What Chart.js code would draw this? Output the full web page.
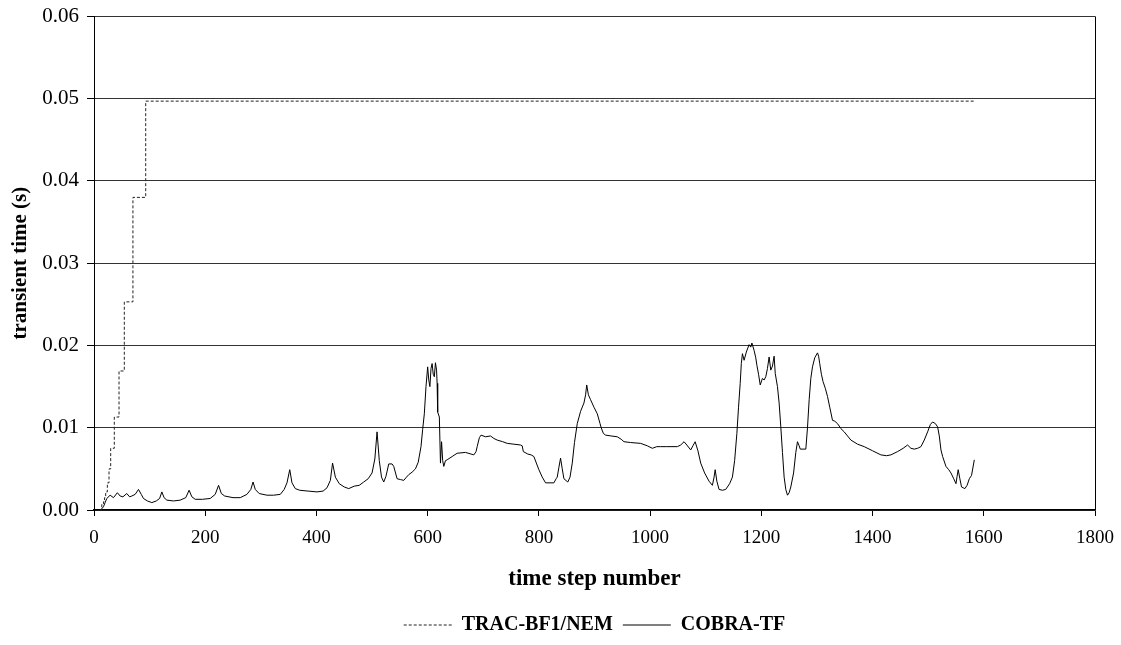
<!DOCTYPE html>
<html>
<head>
<meta charset="utf-8">
<script src="https://cdn.jsdelivr.net/npm/chart.js@4/dist/chart.umd.min.js"></script>
<style>
  html, body { margin: 0; padding: 0; background: #fff; }
</style>
</head>
<body>
<canvas id="stepChart" width="1121" height="645"></canvas>
<script>
Chart.defaults.font.family = "'Liberation Serif', 'Times New Roman', serif"
Chart.defaults.color = "#000"

// TRAC-BF1/NEM: each entry is the step where a new plateau starts
const tracSteps = [10, 14, 17, 19, 21, 24, 27, 30, 36.5, 45, 54.5, 70, 93, 1584]
const tracTimes = [0, 0.0007, 0.001, 0.0015, 0.0022, 0.0033, 0.005, 0.0075, 0.0113, 0.0169, 0.0253, 0.038, 0.0497, 0.0497]

// COBRA-TF
const cobraSteps = [
  0, 12, 17, 20, 23, 29, 35, 42, 47, 52, 59, 64, 68, 74, 80, 85, 89, 96, 104, 112,
  118, 122, 126, 131, 143, 155, 165, 171, 176, 182, 195, 209, 218, 224, 229, 235, 250, 263, 275, 282,
  286, 290, 297, 311, 323, 335, 342, 347, 352, 356, 362, 370, 385, 401, 412, 419, 425, 429, 434, 441,
  450, 458, 468, 477, 485, 493, 500, 505, 509, 513, 517, 521, 525, 530, 536, 539, 545, 551, 557, 562,
  566, 572, 578, 583, 588, 591, 594, 597, 600, 602, 604, 606, 608, 610, 612, 614, 616, 617, 618, 621,
  623, 625, 627, 629, 632, 635, 644, 653, 668, 678, 683, 687, 689, 693, 696, 704, 713, 719, 725, 735,
  743, 755, 767, 770, 772, 780, 786, 791, 796, 800, 806, 812, 820, 827, 831, 833, 836, 839, 842, 845,
  852, 856, 860, 864, 869, 875, 881, 884, 886, 889, 893, 899, 905, 910, 912, 916, 920, 930, 941, 948,
  953, 965, 983, 995, 1004, 1012, 1019, 1030, 1049, 1055, 1061, 1066, 1073, 1077, 1081, 1086, 1091, 1098, 1106, 1112,
  1115, 1117, 1120, 1124, 1130, 1136, 1143, 1148, 1152, 1156, 1159, 1162, 1164, 1166, 1169, 1173, 1178, 1181, 1183, 1187,
  1190, 1192, 1195, 1198, 1202, 1205, 1208, 1211, 1214, 1217, 1220, 1223, 1225, 1229, 1232, 1235, 1238, 1241, 1244, 1247,
  1250, 1253, 1258, 1262, 1265, 1268, 1270, 1280, 1283, 1286, 1289, 1292, 1296, 1301, 1303, 1305, 1308, 1311, 1315, 1319,
  1323, 1328, 1332, 1337, 1343, 1349, 1355, 1361, 1373, 1385, 1400, 1415, 1425, 1433, 1445, 1455, 1463, 1469, 1475, 1481,
  1487, 1493, 1499, 1504, 1508, 1513, 1517, 1520, 1523, 1526, 1532, 1537, 1541, 1546, 1550, 1552, 1554, 1557, 1560, 1566,
  1570, 1574, 1578, 1583
]
const cobraTimes = [
  0, 0, 0.0004, 0.0009, 0.0014, 0.0018, 0.0015, 0.0021, 0.0017, 0.0016, 0.002, 0.0016, 0.0017, 0.0019, 0.0025, 0.0019, 0.0014, 0.0011, 0.0009, 0.0011,
  0.0014, 0.0022, 0.0015, 0.0012, 0.0011, 0.0012, 0.0015, 0.0024, 0.0016, 0.0013, 0.0013, 0.0014, 0.0019, 0.003, 0.002, 0.0017, 0.0015, 0.0015, 0.0019, 0.0025,
  0.0034, 0.0025, 0.002, 0.0018, 0.0018, 0.0019, 0.0025, 0.0033, 0.0049, 0.0033, 0.0026, 0.0024, 0.0023, 0.0022, 0.0023, 0.0027, 0.0036, 0.0057, 0.004, 0.0032,
  0.0028, 0.0026, 0.0029, 0.003, 0.0034, 0.0038, 0.0045, 0.0062, 0.0095, 0.006, 0.004, 0.0034, 0.0041, 0.0056, 0.0056, 0.0053, 0.0038, 0.0037, 0.0036, 0.004,
  0.0043, 0.0046, 0.005, 0.0058, 0.0077, 0.0098, 0.0117, 0.015, 0.0174, 0.0158, 0.015, 0.0172, 0.0178, 0.0165, 0.0162, 0.0179, 0.017, 0.0154, 0.0119, 0.0113,
  0.0057, 0.0083, 0.006, 0.0053, 0.006, 0.0061, 0.0065, 0.0069, 0.007, 0.0068, 0.0067, 0.0071, 0.0077, 0.0088, 0.0091, 0.0089, 0.009, 0.0087, 0.0085, 0.0083,
  0.0081, 0.008, 0.0079, 0.0078, 0.0071, 0.0068, 0.0067, 0.0065, 0.0056, 0.0049, 0.004, 0.0033, 0.0033, 0.0033, 0.0038, 0.004, 0.0052, 0.0063, 0.005, 0.0038,
  0.0034, 0.004, 0.0057, 0.0082, 0.0105, 0.012, 0.013, 0.014, 0.0152, 0.014, 0.0134, 0.0125, 0.0117, 0.0105, 0.01, 0.0093, 0.0091, 0.009, 0.0089, 0.0086,
  0.0083, 0.0082, 0.0081, 0.0078, 0.0075, 0.0077, 0.0077, 0.0077, 0.0077, 0.0079, 0.0083, 0.0079, 0.0073, 0.0078, 0.0083, 0.0072, 0.0057, 0.0045, 0.0035, 0.003,
  0.004, 0.0049, 0.0035, 0.0025, 0.0024, 0.0025, 0.0032, 0.004, 0.006, 0.0093, 0.0125, 0.0154, 0.0178, 0.019, 0.0182, 0.0192, 0.0201, 0.0198, 0.0203, 0.0194,
  0.0185, 0.0176, 0.0165, 0.0152, 0.016, 0.0158, 0.0162, 0.0172, 0.0186, 0.017, 0.0175, 0.0187, 0.0166, 0.015, 0.013, 0.0101, 0.007, 0.004, 0.0025, 0.0018,
  0.0021, 0.0028, 0.0045, 0.007, 0.0083, 0.0078, 0.0074, 0.0074, 0.01, 0.0134, 0.016, 0.0174, 0.0185, 0.0191, 0.0187, 0.0178, 0.0165, 0.0156, 0.0148, 0.0138,
  0.0125, 0.0109, 0.0108, 0.0105, 0.0099, 0.0095, 0.009, 0.0085, 0.008, 0.0077, 0.0072, 0.0067, 0.0066, 0.0067, 0.0071, 0.0075, 0.0079, 0.0075, 0.0074, 0.0075,
  0.0077, 0.0085, 0.0095, 0.0104, 0.0107, 0.0105, 0.0101, 0.009, 0.0073, 0.0065, 0.0053, 0.0049, 0.0045, 0.0038, 0.0032, 0.0041, 0.0049, 0.0038, 0.0028, 0.0026,
  0.003, 0.0038, 0.0042, 0.0061
]

const stepMax = 1800
const stepTick = 200
const timeMax = 0.06
const timeTick = 0.01

const toPoints = (xs, ys) => xs.map((x, i) => ({ x: x, y: ys[i] }))

new Chart(document.getElementById("stepChart"), {
  type: "line",
  data: {
    datasets: [
      {
        label: "TRAC-BF1/NEM",
        data: toPoints(tracSteps, tracTimes),
        stepped: true,
        borderColor: "#222",
        borderWidth: 1,
        borderDash: [3, 2],
        pointRadius: 0,
      },
      {
        label: "COBRA-TF",
        data: toPoints(cobraSteps, cobraTimes),
        borderColor: "#000",
        borderWidth: 1,
        pointRadius: 0,
        tension: 0,
      },
    ],
  },
  options: {
    responsive: false,
    animation: false,
    layout: { padding: { top: 16, right: 26, left: 0, bottom: 0 } },
    plugins: {
      tooltip: { enabled: false },
      legend: {
        position: "bottom",
        fullSize: false,
        labels: {
          usePointStyle: true,
          pointStyle: "line",
          pointStyleWidth: 48,
          padding: 10,
          color: "#000",
          font: { size: 20, weight: "bold" },
          // legend samples take the dash pattern of their own line
          generateLabels: (chart) => {
            const items = Chart.defaults.plugins.legend.labels.generateLabels(chart)
            items.forEach((item) => {
              const ds = chart.data.datasets[item.datasetIndex]
              item.lineDash = ds.borderDash || []
              item.strokeStyle = ds.borderColor
              item.lineWidth = 1
            })
            return items
          },
        },
      },
    },
    scales: {
      x: {
        type: "linear",
        min: 0,
        max: stepMax,
        ticks: {
          stepSize: stepTick,
          padding: 7,
          maxRotation: 0,
          font: { size: 19, lineHeight: 1.6 },
          callback: (v) => String(v),
        },
        // only the right frame edge is drawn inside the plot
        grid: {
          color: (c) => (c.tick && c.tick.value === stepMax ? "#000" : "rgba(0,0,0,0)"),
          tickColor: "#000",
          tickLength: 6,
        },
        border: { color: "#000", width: 1.5 },
        title: {
          display: true,
          text: "time step number",
          font: { size: 23, weight: "bold" },
          padding: { top: 0, bottom: 12 },
        },
        afterFit: (s) => {
          s.height = 95
        },
      },
      y: {
        min: 0,
        max: timeMax,
        ticks: {
          stepSize: timeTick,
          padding: 8,
          font: { size: 21, lineHeight: 0.8 },
          callback: (v) => v.toFixed(2),
        },
        grid: { color: "#333", tickColor: "#000", tickLength: 7 },
        border: { color: "#000" },
        title: {
          display: true,
          text: "transient time (s)",
          font: { size: 21, weight: "bold" },
          padding: { top: 8, bottom: 0 },
        },
        afterFit: (s) => {
          s.width = 94
        },
      },
    },
  },
})
</script>
</body>
</html>
